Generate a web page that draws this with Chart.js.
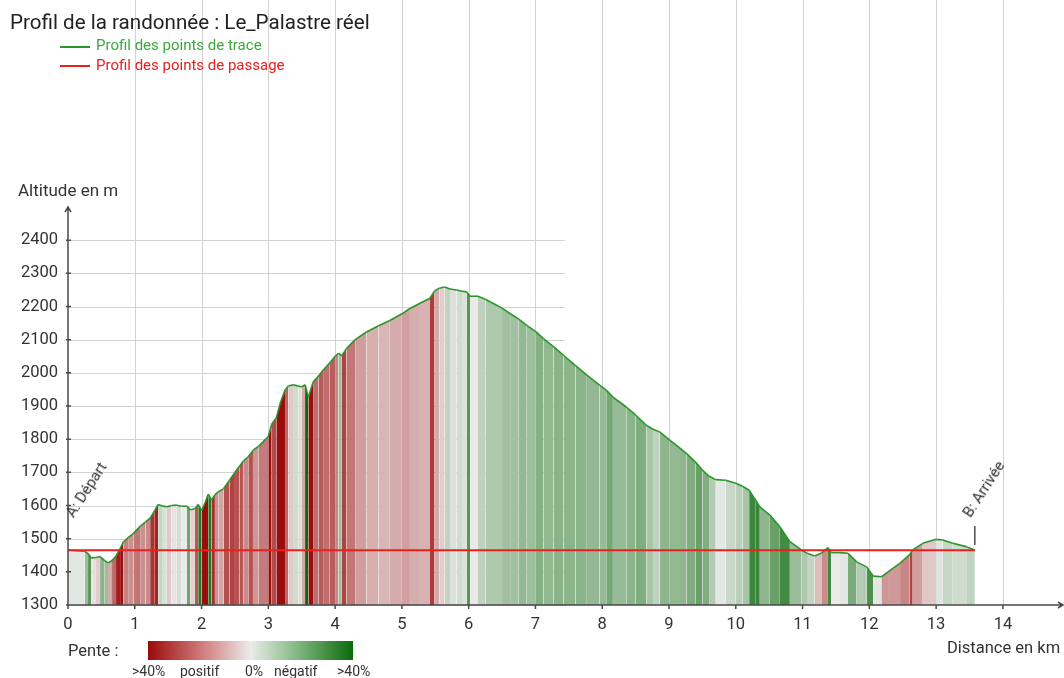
<!DOCTYPE html>
<html lang="fr">
<head>
<meta charset="utf-8">
<title>Profil de la randonnée</title>
<script src="https://cdn.jsdelivr.net/npm/chart.js@4.4.1/dist/chart.umd.min.js"></script>
<style>
  html, body { margin: 0; padding: 0; background: #fff; overflow: hidden; }
  #wrap { position: relative; width: 1064px; height: 678px; font-family: Roboto, "Noto Sans", sans-serif; color: #333; }
  #profil { position: absolute; left: 0; top: 0; }
  .txt { position: absolute; white-space: nowrap; line-height: 1; }
  .swatch { position: absolute; width: 30px; height: 2px; }
  .marker { transform-origin: 0 100%; transform: rotate(-57deg); font-size: 15px; color: #333; }
  #pente-bar { position: absolute; left: 148px; top: 641px; width: 205px; height: 19px;
    background: linear-gradient(90deg, #9b0a0a 0%, #d68c8c 30%, #ebebeb 50%, #8fbf8f 70%, #0a6a0a 100%); }
</style>
</head>
<body>
<div id="wrap">
  <canvas id="profil" width="1064" height="678"></canvas>

  <div class="txt" style="left:10px;top:12px;font-size:20.6px;color:#222">Profil de la randonnée : Le_Palastre réel</div>
  <div class="swatch" style="left:60px;top:46px;background:#2a962a"></div>
  <div class="txt" style="left:96px;top:38px;font-size:15px;color:#3aa83a">Profil des points de trace</div>
  <div class="swatch" style="left:60px;top:65px;background:#e8201e"></div>
  <div class="txt" style="left:96px;top:58px;font-size:15px;color:#e8201e">Profil des points de passage</div>

  <div class="txt" style="left:18px;top:182px;font-size:17px">Altitude en m</div>
  <div class="txt" style="left:947px;top:640px;font-size:16.5px">Distance en km</div>

  <div class="txt" style="left:68px;top:643px;font-size:16.5px">Pente :</div>
  <div id="pente-bar"></div>
  <div class="txt" style="left:132px;top:664px;font-size:14px">&gt;40%</div>
  <div class="txt" style="left:180px;top:664px;font-size:14px">positif</div>
  <div class="txt" style="left:245px;top:664px;font-size:14px">0%</div>
  <div class="txt" style="left:274px;top:664px;font-size:14px">négatif</div>
  <div class="txt" style="left:337px;top:664px;font-size:14px">&gt;40%</div>

  <div class="txt marker" id="labelA">A: Départ</div>
  <div class="txt marker" id="labelB">B: Arrivée</div>
</div>

<script>
// ── Data ─────────────────────────────────────────────────────────────────────
const distanceKm = [
  0.00, 0.25, 0.30, 0.35, 0.42, 0.48, 0.55, 0.60, 0.66, 0.72,
  0.78, 0.83, 0.90, 0.98, 1.08, 1.16, 1.23, 1.30, 1.35, 1.42,
  1.48, 1.55, 1.63, 1.70, 1.78, 1.83, 1.90, 1.95, 2.00, 2.06,
  2.10, 2.15, 2.20, 2.25, 2.33, 2.42, 2.50, 2.57, 2.63, 2.70,
  2.77, 2.85, 2.92, 3.00, 3.05, 3.12, 3.18, 3.25, 3.30, 3.37,
  3.45, 3.50, 3.55, 3.60, 3.67, 3.75, 3.82, 3.92, 4.00, 4.05,
  4.10, 4.17, 4.30, 4.47, 4.65, 4.82, 5.00, 5.12, 5.27, 5.42,
  5.49, 5.56, 5.64, 5.72, 5.82, 5.90, 5.97, 6.02, 6.14, 6.25,
  6.37, 6.50, 6.62, 6.75, 6.87, 7.00, 7.12, 7.27, 7.42, 7.60,
  7.77, 7.96, 8.06, 8.16, 8.36, 8.50, 8.66, 8.76, 8.86, 9.01,
  9.15, 9.26, 9.40, 9.50, 9.60, 9.70, 9.85, 10.00, 10.10, 10.20,
  10.30, 10.36, 10.51, 10.66, 10.81, 10.98, 11.08, 11.18, 11.28, 11.38,
  11.43, 11.56, 11.68, 11.81, 11.96, 12.06, 12.18, 12.28, 12.46, 12.60,
  12.65, 12.80, 13.00, 13.10, 13.25, 13.45, 13.58
];
const altitudeM = [
  1466, 1462, 1455, 1442, 1443, 1446, 1434, 1427, 1434, 1448,
  1470, 1490, 1503, 1516, 1537, 1550, 1562, 1585, 1603, 1598,
  1596, 1600, 1601, 1598, 1598, 1587, 1590, 1603, 1585, 1612,
  1634, 1616, 1633, 1641, 1651, 1676, 1700, 1719, 1735, 1747,
  1766, 1778, 1792, 1808, 1845, 1865, 1910, 1948, 1960, 1964,
  1960, 1958, 1964, 1927, 1972, 1990, 2008, 2030, 2050, 2059,
  2052, 2073, 2100, 2123, 2142, 2158, 2178, 2194, 2210, 2225,
  2247, 2255, 2259, 2253, 2250, 2246, 2244, 2231, 2231, 2222,
  2209, 2195, 2179, 2162, 2143, 2125, 2103, 2079, 2053, 2022,
  1993, 1963, 1948, 1927, 1897, 1873, 1842, 1830, 1822, 1797,
  1775, 1757, 1730, 1707, 1688, 1678, 1676, 1667, 1658, 1646,
  1615, 1596, 1571, 1536, 1491, 1466, 1455, 1448, 1456, 1473,
  1458, 1458, 1456, 1430, 1415, 1387, 1385, 1400, 1426, 1451,
  1466, 1486, 1498, 1496, 1486, 1476, 1466
];
const passageKm  = [0, 13.58];
const passageAlt = [1465, 1465];

const xTickValues = [0, 1, 2, 3, 4, 5, 6, 7, 8, 9, 10, 11, 12, 13, 14];
const yTickValues = [1300, 1400, 1500, 1600, 1700, 1800, 1900, 2000, 2100, 2200, 2300, 2400];

// ── Styling helpers ──────────────────────────────────────────────────────────
const H_GRID_END_KM = 7.44;   // horizontal grid lines stop here in the original
const AXIS_COLOR    = '#4a4a4a';
const GRID_COLOR    = '#d2d2d2';

function mix(a, b, t) {
  return `rgb(${a.map((v, i) => Math.round(v + (b[i] - v) * t)).join(',')})`;
}

// slope as a fraction (0.4 = 40%) → colour of the "Pente" scale
function slopeColor(s) {
  const t = Math.min(Math.abs(s) / 0.4, 1);
  return s >= 0 ? mix([236, 233, 233], [155, 12, 12], t)
                : mix([236, 236, 236], [10, 105, 10], t);
}

// ── Plugins: grid behind the fill, axes with arrows on top ───────────────────
const gridPlugin = {
  id: 'profileGrid',
  beforeDatasetsDraw(chart) {
    const { ctx, scales: { x, y } } = chart;
    ctx.save();
    ctx.strokeStyle = GRID_COLOR;
    ctx.lineWidth = 1;
    const x0 = x.getPixelForValue(0), x1 = x.getPixelForValue(H_GRID_END_KM);
    yTickValues.forEach(v => {
      const py = Math.round(y.getPixelForValue(v)) + 0.5;
      ctx.beginPath(); ctx.moveTo(x0, py); ctx.lineTo(x1, py); ctx.stroke();
    });
    xTickValues.filter(v => v > 0).forEach(v => {
      const px = Math.round(x.getPixelForValue(v)) + 0.5;
      ctx.beginPath(); ctx.moveTo(px, y.bottom); ctx.lineTo(px, 0); ctx.stroke();
    });
    ctx.restore();
  }
};

const axesPlugin = {
  id: 'profileAxes',
  afterDatasetsDraw(chart) {
    const { ctx, chartArea: a, scales: { x, y } } = chart;
    ctx.save();
    ctx.strokeStyle = AXIS_COLOR;
    ctx.lineWidth = 1.5;
    ctx.beginPath();
    ctx.moveTo(a.left, a.bottom); ctx.lineTo(a.left, a.top);
    ctx.moveTo(a.left - 3, a.top + 5); ctx.lineTo(a.left, a.top); ctx.lineTo(a.left + 3, a.top + 5);
    ctx.moveTo(a.left, a.bottom); ctx.lineTo(a.right, a.bottom);
    ctx.moveTo(a.right - 5, a.bottom - 3); ctx.lineTo(a.right, a.bottom); ctx.lineTo(a.right - 5, a.bottom + 3);
    yTickValues.forEach(v => {
      const py = y.getPixelForValue(v);
      ctx.moveTo(a.left - 2, py); ctx.lineTo(a.left + 3, py);
    });
    xTickValues.forEach(v => {
      const px = x.getPixelForValue(v);
      ctx.moveTo(px, a.bottom); ctx.lineTo(px, a.bottom + 4);
    });
    ctx.stroke();

    // small marker above the arrival point
    const n = distanceKm.length - 1;
    const bx = x.getPixelForValue(distanceKm[n]), by = y.getPixelForValue(altitudeM[n]);
    ctx.lineWidth = 1.2;
    ctx.strokeStyle = '#222';
    ctx.beginPath(); ctx.moveTo(bx, by - 5); ctx.lineTo(bx, by - 24); ctx.stroke();
    ctx.restore();
  }
};

// ── Chart ────────────────────────────────────────────────────────────────────
const tickFont = { family: 'Roboto, "Noto Sans", sans-serif', size: 16.5 };

const chart = new Chart(document.getElementById('profil'), {
  type: 'line',
  data: {
    datasets: [
      {
        label: 'Profil des points de passage',
        data: passageKm.map((d, i) => ({ x: d, y: passageAlt[i] })),
        borderColor: '#e8201e',
        borderWidth: 2,
        pointRadius: 0,
        fill: false
      },
      {
        label: 'Profil des points de trace',
        data: distanceKm.map((d, i) => ({ x: d, y: altitudeM[i] })),
        borderColor: '#2a962a',
        borderWidth: 1.6,
        pointRadius: 0,
        tension: 0,
        fill: 'start',
        backgroundColor: '#e6e6e6',
        segment: {
          backgroundColor: c => slopeColor((c.p1.parsed.y - c.p0.parsed.y) / ((c.p1.parsed.x - c.p0.parsed.x) * 1000))
        }
      }
    ]
  },
  options: {
    responsive: false,
    animation: false,
    layout: { padding: { top: 207, right: 1, left: 0, bottom: 0 } },
    plugins: { legend: { display: false }, tooltip: { enabled: false } },
    scales: {
      x: {
        type: 'linear', min: 0, max: 14.9,
        grid: { display: false, drawTicks: false },
        border: { display: false },
        ticks: { font: tickFont, color: '#333', padding: 10, maxRotation: 0, autoSkip: false, callback: v => String(v) },
        afterBuildTicks: s => { s.ticks = xTickValues.map(v => ({ value: v })); },
        afterFit: s => { s.height = 73; }
      },
      y: {
        type: 'linear', min: 1300, max: 2500,
        grid: { display: false, drawTicks: false },
        border: { display: false },
        ticks: { font: tickFont, color: '#333', padding: 10, autoSkip: false, callback: v => String(v) },
        afterBuildTicks: s => { s.ticks = yTickValues.map(v => ({ value: v })); },
        afterFit: s => { s.width = 68; }
      }
    }
  },
  plugins: [gridPlugin, axesPlugin]
});

// ── Start / end labels anchored to the first and last track points ───────────
function placeMarker(id, px, py) {
  const el = document.getElementById(id);
  el.style.left = px + 'px';
  el.style.top  = (py - el.offsetHeight) + 'px';
}
const xs = chart.scales.x, ys = chart.scales.y, last = distanceKm.length - 1;
placeMarker('labelA', xs.getPixelForValue(distanceKm[0]) + 8, ys.getPixelForValue(altitudeM[0]) - 30);
placeMarker('labelB', xs.getPixelForValue(distanceKm[last]) - 2, ys.getPixelForValue(altitudeM[last]) - 30);
</script>
</body>
</html>
